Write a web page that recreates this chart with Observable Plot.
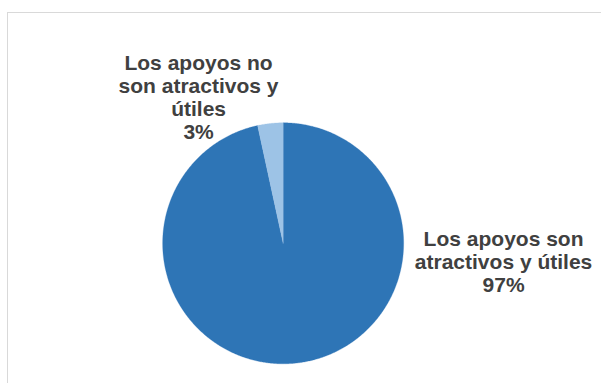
<!DOCTYPE html>
<html>
<head>
<meta charset="utf-8">
<script src="https://cdn.jsdelivr.net/npm/d3@7"></script>
<script src="https://cdn.jsdelivr.net/npm/@observablehq/plot@0.6"></script>
<style>
  html, body { margin: 0; padding: 0; background: #ffffff; }
  #wrap { position: relative; width: 601px; height: 383px; overflow: hidden; }
  #border { position: absolute; left: 7px; top: 12px; width: 620px; height: 400px;
            border: 1px solid #d9d9d9; box-sizing: border-box; }
  #chart { position: absolute; left: 0; top: 0; }
</style>
</head>
<body>
<div id="wrap"><div id="border"></div><div id="chart"></div></div>
<script>
// ---- data ----
const categories = ["Los apoyos son\natractivos y útiles", "Los apoyos no\nson atractivos y\nútiles"];
const values = [96.6, 3.4];
const colors = ["#2E75B6", "#9DC3E6"];

// ---- pie geometry via d3.pie (angles from values) ----
const total = d3.sum(values);
const arcs = d3.pie().sort(null).value(d => d)(values);
const pts = [];
arcs.forEach((a, i) => {
  const key = categories[i];
  pts.push({k: key, x: 0, y: 0});
  const n = Math.max(8, Math.ceil((a.endAngle - a.startAngle) / (Math.PI / 360)));
  for (let j = 0; j <= n; j++) {
    const t = a.startAngle + (a.endAngle - a.startAngle) * j / n;
    pts.push({k: key, x: Math.sin(t), y: Math.cos(t)});
  }
  pts.push({k: key, x: 0, y: 0});
});

// label placement (relative to pie, in pie-radius units)
const labelPlace = [{x: 1.829, y: 0.114}, {x: -0.702, y: 1.577}];
const labels = categories.map((c, i) => ({
  text: c + "\n" + Math.round(values[i] / total * 100) + "%",
  x: labelPlace[i].x, y: labelPlace[i].y
}));

const chart = Plot.plot({
  width: 601,
  height: 383,
  style: {background: "transparent", overflow: "visible"},
  x: {domain: [-1, 1], range: [162.15, 403.15], axis: null},
  y: {domain: [-1, 1], range: [363.3, 122.3], axis: null},
  color: {domain: categories, range: colors},
  marks: [
    Plot.line(pts, {x: "x", y: "y", z: "k", fill: "k", stroke: "k", strokeWidth: 0.3, curve: "linear"}),
    Plot.text(labels, {
      x: "x", y: "y", text: "text",
      textAnchor: "middle", lineAnchor: "top", lineHeight: 1.095,
      fontSize: 21, fontWeight: "bold", fill: "#404040",
      fontFamily: "'Liberation Sans', Arial, sans-serif"
    })
  ]
});
document.getElementById("chart").appendChild(chart);
</script>
</body>
</html>
